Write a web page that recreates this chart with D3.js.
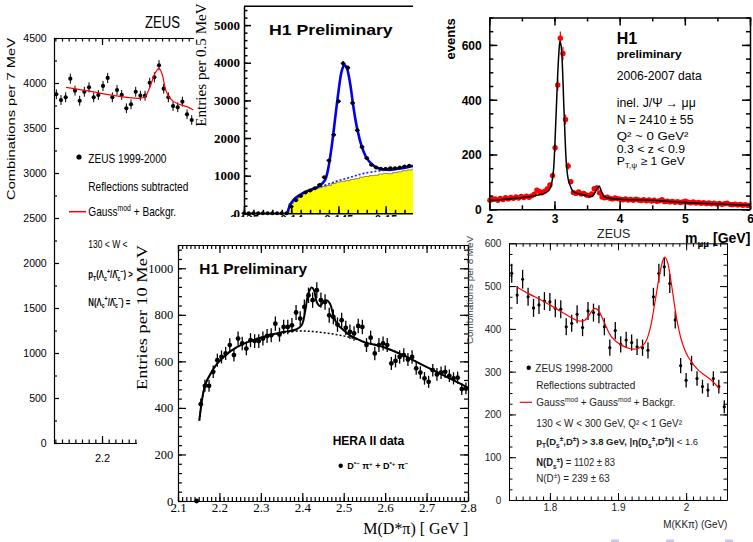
<!DOCTYPE html>
<html>
<head>
<meta charset="utf-8">
<script src="https://cdn.jsdelivr.net/npm/d3@7"></script>
<style>
  html, body { margin: 0; padding: 0; background: #fff; }
  svg { display: block; }
</style>
</head>
<body>
<svg id="page" width="753" height="542"></svg>
<script>
// ---------------- data ----------------
// ZEUS Lambda_c: M(pK pi) in 7 MeV bins
const lcBinStart = 2.1315, lcBinWidth = 0.007;
const lcCounts = [3875, 3811, 3841, 4048, 3915, 3803, 3903, 3952, 3841, 3867,
                  3967, 4056, 3841, 3922, 3867, 3719, 3763, 3903, 3859, 3859,
                  4003, 4063, 4197, 3937, 3841, 3744, 3730, 3793, 3652, 3589];
const lcErrors = [55, 55, 55, 56, 55, 55, 55, 56, 55, 55, 56, 56, 55, 55, 55,
                  54, 55, 55, 55, 55, 56, 56, 57, 55, 55, 54, 54, 55, 54, 54];
const lcFit = [[2.146, 3952], [2.1775, 3915], [2.207, 3874], [2.237, 3841], [2.257, 3830],
               [2.2645, 3848], [2.272, 3959], [2.2795, 4108], [2.2855, 4163], [2.2905, 4089],
               [2.2955, 3922], [2.302, 3830], [2.312, 3774], [2.327, 3737], [2.337, 3700]];
const lcTicksY = [0, 500, 1000, 1500, 2000, 2500, 3000, 3500, 4000, 4500];

// H1 D* : delta M in 0.5 MeV bins
const dmBinStart = 0.135, dmBinWidth = 0.0005;
const dmCounts = [0, 0, 0, 0, 0, 0, 0, 0, 0, 0,
                  180, 350, 460, 551, 604, 666, 755, 960, 1404, 2088,
                  2977, 3982, 3867, 2933, 2204, 1760, 1467, 1288, 1216, 1181,
                  1181, 1200, 1200, 1216, 1243, 1261];
const dmErrors = [0, 0, 0, 0, 0, 0, 0, 0, 0, 0,
                  14, 19, 21, 23, 25, 26, 27, 31, 37, 46,
                  55, 63, 62, 54, 47, 42, 38, 36, 35, 34,
                  34, 35, 35, 35, 35, 36];
const dmWrongCharge = [0, 0, 0, 0, 0, 0, 0, 0, 0, 0,
                       260, 390, 480, 560, 610, 650, 680, 710, 740, 790,
                       830, 850, 870, 900, 920, 960, 980, 1000, 1010, 1040,
                       1060, 1050, 1080, 1100, 1130, 1150, 1170];
const dmFit = [[0.13959, 0], [0.1399, 230], [0.1403, 370], [0.1408, 470], [0.1415, 570],
               [0.1423, 645], [0.1430, 730], [0.14358, 880], [0.14393, 1200], [0.14429, 1777],
               [0.14464, 2488], [0.14499, 3200], [0.14535, 3777], [0.14563, 3937], [0.14588, 3867],
               [0.14623, 3467], [0.14658, 2843], [0.14694, 2310], [0.14747, 1777], [0.148, 1467],
               [0.1487, 1270], [0.14941, 1181], [0.15047, 1155], [0.15153, 1190], [0.1529, 1261]];
const dmBackground = [[0.1423, 645], [0.1430, 700], [0.1441, 790], [0.1450, 870], [0.1459, 930],
                      [0.1468, 1000], [0.1477, 1060], [0.1491, 1120], [0.1505, 1160], [0.1529, 1255]];
const dmTicksX = [0.135, 0.14, 0.145, 0.15];
const dmTicksY = [0, 1000, 2000, 3000, 4000, 5000];

// H1 J/psi : m(mu mu) in 40 MeV bins
const jpBinStart = 2.01, jpBinWidth = 0.04;
const jpCounts = [33, 36, 38, 33, 40, 36, 42, 38, 43, 40,
                  45, 41, 47, 43, 48, 44, 49, 55, 70, 65,
                  60, 66, 74, 89, 123, 225, 454, 624, 569, 328,
                  158, 101, 61, 58, 63, 56, 58, 52, 50, 56,
                  75, 78, 60, 45, 42, 44, 40, 38, 41, 39,
                  37, 35, 38, 34, 36, 33, 37, 34, 32, 35,
                  31, 34, 30, 33, 29, 31, 35, 28, 30, 27,
                  29, 26, 28, 25, 27, 30, 26, 24, 27, 23,
                  25, 22, 24, 21, 23, 20, 22, 19, 21, 18,
                  20, 22, 18, 17, 19, 16, 18, 15, 17, 14];
const jpErrors = [6, 6, 6, 6, 6, 6, 6, 6, 7, 6,
                  7, 6, 7, 7, 7, 7, 7, 7, 8, 8,
                  8, 8, 9, 9, 11, 15, 21, 25, 24, 18,
                  13, 10, 8, 8, 8, 7, 8, 7, 7, 7,
                  9, 9, 8, 7, 6, 7, 6, 6, 6, 6,
                  6, 6, 6, 6, 6, 6, 6, 6, 6, 6,
                  6, 6, 5, 6, 5, 6, 6, 5, 5, 5,
                  5, 5, 5, 5, 5, 5, 5, 5, 5, 5,
                  5, 5, 5, 5, 5, 4, 5, 4, 5, 4,
                  4, 5, 4, 4, 4, 4, 4, 4, 4, 4];
const jpFit = [[2.0, 32], [2.3, 38], [2.6, 46], [2.8, 55], [2.9, 66], [2.94, 80], [2.98, 130],
               [3.007, 241], [3.048, 484], [3.07, 580], [3.084, 612], [3.10, 600], [3.115, 557],
               [3.15, 338], [3.186, 156], [3.215, 105], [3.237, 89], [3.29, 64], [3.4, 55],
               [3.5, 50], [3.58, 47], [3.63, 65], [3.685, 85], [3.72, 66], [3.76, 48], [3.8, 42],
               [4.0, 37], [4.5, 33], [5.0, 25], [5.5, 20], [6.0, 15]];
const jpTicksX = [2, 3, 4, 5, 6];
const jpTicksY = [0, 200, 400, 600];

// H1 D* pi : M(D* pi) in 10 MeV bins
const dsBinStart = 2.145, dsBinWidth = 0.01;
const dsCounts = [0, 416, 495, 495, 555, 605, 619, 634, 670, 627,
                  698, 677, 655, 691, 687, 687, 698, 709, 712, 762,
                  715, 748, 748, 755, 810, 784, 834, 884, 863, 906,
                  863, 855, 798, 791, 758, 777, 744, 727, 720, 752,
                  748, 670, 702, 634, 670, 677, 670, 591, 602, 619,
                  627, 608, 619, 570, 552, 527, 512, 562, 544, 551,
                  555, 538, 527, 530, 481, 484];
const dsErrors = [0, 24, 26, 26, 27, 28, 28, 28, 29, 28,
                  30, 29, 29, 30, 30, 30, 30, 30, 30, 31,
                  30, 31, 31, 31, 32, 31, 32, 33, 33, 34,
                  33, 33, 32, 32, 31, 32, 31, 31, 31, 31,
                  31, 30, 30, 29, 30, 30, 30, 28, 28, 29,
                  29, 28, 29, 28, 27, 27, 26, 27, 27, 27,
                  27, 27, 26, 26, 25, 25];
const dsFit = [[2.1514, 345], [2.1652, 497], [2.179, 548], [2.195, 591], [2.227, 644], [2.26, 677],
               [2.293, 698], [2.325, 715], [2.357, 727], [2.385, 737], [2.3985, 755], [2.4066, 812],
               [2.4146, 891], [2.4227, 917], [2.4283, 906], [2.4348, 855], [2.4428, 838], [2.4509, 855],
               [2.459, 863], [2.467, 848], [2.475, 798], [2.483, 763], [2.495, 741], [2.515, 712],
               [2.531, 698], [2.547, 684], [2.595, 662], [2.643, 627], [2.691, 584], [2.74, 541],
               [2.788, 498], [2.80, 486]];
const dsBackground = [[2.1514, 345], [2.1652, 497], [2.179, 548], [2.195, 591], [2.227, 644],
                      [2.26, 677], [2.293, 698], [2.325, 713], [2.357, 724], [2.389, 730],
                      [2.421, 729], [2.453, 723], [2.486, 714], [2.518, 702], [2.547, 686],
                      [2.595, 662], [2.643, 627], [2.691, 584], [2.74, 541], [2.788, 498], [2.80, 486]];
const dsTicksX = [2.1, 2.2, 2.3, 2.4, 2.5, 2.6, 2.7, 2.8];
const dsTicksY = [0, 200, 400, 600, 800, 1000];

// ZEUS D_s / D+ : M(KK pi) in 8 MeV bins
const kkBinStart = 1.744, kkBinWidth = 0.008;
const kkCounts = [530, 479, 516, 475, 449, 456, 465, 463, 448, 446,
                  405, 413, 434, 403, 442, 438, 434, 405, 356, 396,
                  364, 374, 368, 358, 356, 350, 475, 530, 545, 506,
                  421, 314, 280, 319, 284, 265, 257, 284, 265, 218];
const kkErrors = [22, 21, 22, 21, 21, 21, 21, 21, 21, 21,
                  20, 20, 21, 20, 21, 21, 21, 20, 19, 20,
                  19, 19, 19, 19, 19, 19, 21, 22, 22, 22,
                  20, 18, 17, 18, 17, 16, 16, 17, 16, 15];
const kkFit = [[1.7517, 498], [1.7679, 483], [1.7924, 463], [1.8168, 440], [1.8413, 419],
               [1.8511, 420], [1.8609, 440], [1.8658, 448], [1.8707, 444], [1.8805, 413],
               [1.8902, 382], [1.9049, 362], [1.9196, 353], [1.9294, 354], [1.9392, 366],
               [1.9466, 397], [1.9539, 459], [1.9613, 529], [1.9661, 561], [1.9686, 568],
               [1.9725, 557], [1.9783, 506], [1.9857, 428], [1.993, 374], [2.0028, 335],
               [2.0175, 304], [2.0371, 280], [2.0494, 259]];
const kkTicksX = [1.8, 1.9, 2.0];
const kkTicksY = [0, 100, 200, 300, 400, 500, 600];

// ---------------- helpers ----------------
const SANS = "'Liberation Sans', Arial, Helvetica, sans-serif";
const SERIF = "'Liberation Serif', 'Times New Roman', Times, serif";
const svg = d3.select("#page");

// bin centres plus contents and errors as one record per bin
function bins(start, width, counts, errors) {
  return counts.map((v, i) => ({ m: +(start + width * i).toFixed(5), v, e: errors[i] }));
}

// text with optional sub/superscript parts: [text, "sub"|"sup"|null, weight]
function T(g, x, y, parts, o = {}) {
  const fs = o.fs || 12;
  const t = g.append("text")
    .attr("font-family", o.ff || SANS)
    .attr("font-size", fs)
    .attr("font-weight", o.fw || "normal")
    .attr("fill", o.fill || "#000")
    .attr("text-anchor", o.anchor || "start");
  let tf = `translate(${x},${y})`;
  if (o.rot) tf += ` rotate(${o.rot})`;
  if (o.sx) tf += ` scale(${o.sx},1)`;
  t.attr("transform", tf);
  if (o.len) t.attr("textLength", o.len).attr("lengthAdjust", "spacingAndGlyphs");
  const arr = typeof parts === "string" ? [[parts]] : parts;
  let cur = 0;
  arr.forEach(([s, m, w]) => {
    const off = m === "sub" ? 0.28 : m === "sup" ? -0.4 : 0;
    const ts = t.append("tspan").text(s);
    if (off !== cur) ts.attr("dy", ((off - cur) * fs).toFixed(2));
    cur = off;
    if (m) ts.attr("font-size", (fs * 0.68).toFixed(2));
    if (w) ts.attr("font-weight", w);
  });
  return t;
}

// one side of a frame: inward major and minor ticks, optional labels
function side(g, scale, orient, pos, major, minor, majLen, minLen, fmt, lab, lw) {
  const make = { bottom: d3.axisBottom, top: d3.axisTop, left: d3.axisLeft, right: d3.axisRight }[orient];
  const tr = (orient === "bottom" || orient === "top") ? `translate(0,${pos})` : `translate(${pos},0)`;
  if (minor && minor.length) {
    const m = g.append("g").attr("transform", tr)
      .call(make(scale).tickValues(minor).tickSize(-minLen).tickSizeOuter(0).tickFormat(() => ""));
    m.select(".domain").remove();
    m.selectAll("line").attr("stroke", "#000").attr("stroke-width", lw);
  }
  const a = g.append("g").attr("transform", tr)
    .call(make(scale).tickValues(major || []).tickSize(-majLen).tickSizeOuter(0)
      .tickPadding(lab ? lab.pad : 3).tickFormat(fmt || (() => "")));
  a.select(".domain").attr("stroke", "#000").attr("stroke-width", lw);
  a.selectAll("line").attr("stroke", "#000").attr("stroke-width", lw);
  a.selectAll("text")
    .attr("font-family", lab ? lab.ff : SANS)
    .attr("font-size", lab ? lab.fs : 10)
    .attr("font-weight", lab && lab.fw ? lab.fw : "normal")
    .attr("fill", lab && lab.fill ? lab.fill : "#000");
  if (lab && lab.dy) a.selectAll("text").attr("dy", lab.dy);
  return a;
}

// points with vertical error bars (and optional half-bin horizontal bars)
function points(g, data, x, y, o) {
  g.append("g").selectAll("line").data(data.filter(d => d.e > 0)).join("line")
    .attr("x1", d => x(d.m)).attr("x2", d => x(d.m))
    .attr("y1", d => y(d.v - d.e)).attr("y2", d => y(d.v + d.e))
    .attr("stroke", o.color).attr("stroke-width", o.ew);
  if (o.hw) {
    g.append("g").selectAll("line").data(data).join("line")
      .attr("x1", d => x(d.m) - o.hw).attr("x2", d => x(d.m) + o.hw)
      .attr("y1", d => y(d.v)).attr("y2", d => y(d.v))
      .attr("stroke", o.color).attr("stroke-width", o.ew);
  }
  g.append("g").selectAll("circle").data(data).join("circle")
    .attr("cx", d => x(d.m)).attr("cy", d => y(d.v)).attr("r", o.r)
    .attr("fill", o.color);
}

function curve(g, pts, x, y, stroke, width, dash) {
  const p = g.append("path").datum(pts)
    .attr("d", d3.line().x(d => x(d[0])).y(d => y(d[1])).curve(d3.curveCatmullRom.alpha(0.5)))
    .attr("fill", "none").attr("stroke", stroke).attr("stroke-width", width);
  if (dash) p.attr("stroke-dasharray", dash);
  return p;
}

const defs = svg.append("defs");
defs.append("clipPath").attr("id", "clipB")
  .append("rect").attr("x", 194).attr("y", 0).attr("width", 219).attr("height", 217);

// ---------------- ZEUS Lambda_c (left) ----------------
{
  const g = svg.append("g");
  const x = d3.scaleLinear([2.128, 2.40], [54, 235.4]);
  const y = d3.scaleLinear([0, 4500], [443, 38]);
  const lw = 1.2;
  const minorX = d3.range(213, 240).map(v => v / 100);
  side(g, y, "left", 54, lcTicksY, d3.range(250, 4500, 500), 5, 3, d3.format("d"),
       { ff: SANS, fs: 10.5, pad: 7.3, dy: "0.34em" }, lw);
  side(g, x, "bottom", 443, [2.2], minorX, 7, 3.5, d => d.toFixed(1),
       { ff: SANS, fs: 11, pad: 10.7 }, lw);
  side(g, x, "top", 38, [2.2], minorX, 7, 3.5, null, null, lw);

  points(g, bins(lcBinStart, lcBinWidth, lcCounts, lcErrors), x, y, { color: "#000", r: 2.1, ew: 1 });
  curve(g, lcFit, x, y, "#ff0000", 1.2);

  T(g, 145, 28.3, "ZEUS", { fs: 16, sx: 0.82 });
  T(g, 14.5, 119, "Combinations per 7 MeV", { fs: 10.5, rot: -90, anchor: "middle", len: 162 });

  g.append("circle").attr("cx", 79).attr("cy", 157).attr("r", 2.6).attr("fill", "#000");
  T(g, 88.3, 163.3, "ZEUS 1999-2000", { fs: 12.5, sx: 0.81 });
  T(g, 88.3, 190.5, "Reflections subtracted", { fs: 12.5, sx: 0.81 });
  g.append("line").attr("x1", 69).attr("x2", 86).attr("y1", 211.7).attr("y2", 211.7)
    .attr("stroke", "#ff0000").attr("stroke-width", 1.5);
  T(g, 88.3, 215.5, [["Gauss"], ["mod", "sup"], [" + Backgr."]], { fs: 12.5, sx: 0.81 });
  T(g, 88.3, 248, "130 < W <", { fs: 10.5, sx: 0.81 });
  T(g, 88.3, 278, [["p"], ["T", "sub"], ["(\u039B"], ["c", "sub"], ["+", "sup"], ["/\u039B\u0304"],
                   ["c", "sub"], ["\u2212", "sup"], [") >"]], { fs: 10.5, fw: "bold", sx: 0.74 });
  T(g, 88.3, 305.5, [["N(\u039B"], ["c", "sub"], ["+", "sup"], ["/\u039B\u0304"], ["c", "sub"],
                     ["\u2212", "sup"], [") ="]], { fs: 10.5, fw: "bold", sx: 0.74 });
}

// ---------------- H1 D* delta M (top middle) ----------------
svg.append("rect").attr("x", 194).attr("y", 0).attr("width", 226).attr("height", 217).attr("fill", "#fff");
{
  const g = svg.append("g").attr("clip-path", "url(#clipB)");
  const x = d3.scaleLinear([0.135, 0.155], [244, 432.8]);
  const y = d3.scaleLinear([0, 5500], [213.3, 6.3]);
  const lw = 1.5;

  // wrong-charge combinations as a filled histogram
  const steps = [];
  dmWrongCharge.forEach((v, i) => {
    const c = dmBinStart + dmBinWidth * i;
    steps.push([c - dmBinWidth / 2, v], [c + dmBinWidth / 2, v]);
  });
  g.append("path").datum(steps)
    .attr("d", d3.area().x(d => x(d[0])).y0(y(0)).y1(d => y(d[1])))
    .attr("fill", "#ffff00");
  g.append("path").datum(steps)
    .attr("d", d3.line().x(d => x(d[0])).y(d => y(d[1])))
    .attr("fill", "none").attr("stroke", "#8c8c3c").attr("stroke-width", 1);

  curve(g, dmBackground, x, y, "#1a1aff", 1.6, "2,2");
  curve(g, dmFit, x, y, "#0000f0", 2.6);
  points(g, bins(dmBinStart, dmBinWidth, dmCounts, dmErrors), x, y,
         { color: "#000", r: 2, ew: 1.3, hw: 2.4 });

  side(g, y, "left", 244, dmTicksY, d3.range(0, 5500, 200), 7, 3.5, d3.format("d"),
       { ff: SERIF, fs: 13, fw: "bold", pad: 4, dy: "0.32em" }, lw);
  side(g, x, "bottom", 213.3, dmTicksX, d3.range(135, 156).map(v => v / 1000), 7, 3.5,
       d => String(+d.toFixed(3)), { ff: SERIF, fs: 13, fw: "bold", pad: 0.3 }, lw);
  g.append("line").attr("x1", 244).attr("x2", 413).attr("y1", 6.3).attr("y2", 6.3)
    .attr("stroke", "#000").attr("stroke-width", lw);

  T(g, 269, 35, "H1 Preliminary", { fs: 15, fw: "bold", len: 123.7 });
  T(g, 206, 65, "Entries per 0.5 MeV", { ff: SERIF, fs: 14.5, rot: -90, anchor: "middle", len: 123.4 });
}

// ---------------- H1 D* pi (bottom middle) ----------------
svg.append("rect").attr("x", 137).attr("y", 232).attr("width", 341).attr("height", 310).attr("fill", "#fff");
{
  const g = svg.append("g");
  const x = d3.scaleLinear([2.1, 2.8], [178, 468]);
  const y = d3.scaleLinear([0, 1100], [501, 245]);
  const lw = 1.2;
  const minorX = d3.range(210, 281).map(v => v / 100);
  const minorY = d3.range(0, 1100, 40);
  side(g, y, "left", 178, dsTicksY, minorY, 8, 4, d3.format("d"),
       { ff: SERIF, fs: 12.5, pad: 4.7, dy: "0.32em" }, lw);
  side(g, y, "right", 468, dsTicksY, minorY, 8, 4, null, null, lw);
  side(g, x, "bottom", 501, dsTicksX, minorX, 8, 4, d => d.toFixed(1),
       { ff: SERIF, fs: 13, pad: 2.2 }, lw);
  side(g, x, "top", 245, dsTicksX, minorX, 8, 4, null, null, lw);

  points(g, bins(dsBinStart, dsBinWidth, dsCounts, dsErrors), x, y, { color: "#000", r: 2.4, ew: 1.3 });
  curve(g, dsBackground, x, y, "#000", 1.5, "2,2");
  curve(g, dsFit, x, y, "#000", 2);

  T(g, 199.3, 274.3, "H1 Preliminary", { fs: 15.4, fw: "bold" });
  T(g, 332.7, 445, "HERA II data", { fs: 12, fw: "bold" });
  g.append("circle").attr("cx", 340.7).attr("cy", 465.7).attr("r", 2.2).attr("fill", "#000");
  T(g, 347.3, 469.3, [["D"], ["*\u2212", "sup"], [" \u03C0"], ["+", "sup"], [" + D"], ["*+", "sup"],
                      [" \u03C0"], ["\u2212", "sup"]], { fs: 9, fw: "bold", len: 61 });
  T(g, 147, 317.5, "Entries per 10 MeV", { ff: SERIF, fs: 15.5, rot: -90, anchor: "middle", len: 145 });
  T(g, 468.3, 534, "M(D*\u03C0) [ GeV ]", { ff: SERIF, fs: 16, anchor: "end", len: 105 });
}

// ---------------- ZEUS D_s / D+ (bottom right) ----------------
{
  const g = svg.append("g");
  const x = d3.scaleLinear([1.74, 2.06], [509, 727]);
  const y = d3.scaleLinear([0, 600], [500, 243.3]);
  const lw = 1;
  const ink = "#222";
  const minorX = d3.range(174, 207).map(v => v / 100);
  const minorY = d3.range(0, 600, 25);
  side(g, y, "left", 509, kkTicksY, minorY, 7, 3.5, d3.format("d"),
       { ff: SANS, fs: 10, pad: 7.7, dy: "0.34em", fill: ink }, lw);
  side(g, y, "right", 727, kkTicksY, minorY, 7, 3.5, null, null, lw);
  side(g, x, "bottom", 500, kkTicksX, minorX, 7, 3.5, d => (d === 2 ? "2" : d.toFixed(1)),
       { ff: SANS, fs: 10, pad: 3.6, fill: ink }, lw);
  side(g, x, "top", 243.3, kkTicksX, minorX, 7, 3.5, null, null, lw);

  points(g, bins(kkBinStart, kkBinWidth, kkCounts, kkErrors), x, y, { color: "#000", r: 1.6, ew: 1.3 });
  curve(g, kkFit, x, y, "#ff0000", 1.2);

  T(g, 597, 238, "ZEUS", { fs: 12.5, fill: ink });
  T(g, 472.5, 290, "Combinations per 8 MeV", { fs: 9, rot: -90, anchor: "middle", len: 108, fill: "#444" });
  g.append("circle").attr("cx", 528.7).attr("cy", 367.7).attr("r", 2.2).attr("fill", "#000");
  T(g, 535.3, 371.5, "ZEUS 1998-2000", { fs: 10, fill: ink });
  T(g, 536.3, 389, "Reflections subtracted", { fs: 10, fill: ink });
  g.append("line").attr("x1", 519.7).attr("x2", 532).attr("y1", 402.3).attr("y2", 402.3)
    .attr("stroke", "#ff0000").attr("stroke-width", 1.2);
  T(g, 536.3, 405.7, [["Gauss"], ["mod", "sup"], [" + Gauss"], ["mod", "sup"], [" + Backgr."]],
    { fs: 10, fill: ink, len: 139 });
  T(g, 536.3, 427.3, "130 < W < 300 GeV, Q\u00B2 < 1 GeV\u00B2", { fs: 10, fill: ink, len: 145.7 });
  T(g, 536.3, 445, [["p"], ["T", "sub"], ["(D"], ["s", "sub"], ["\u00B1", "sup"], [",D"], ["\u00B1", "sup"],
                    [") > 3.8 GeV,  |\u03B7(D"], ["s", "sub"], ["\u00B1", "sup"], [",D"], ["\u00B1", "sup"],
                    [")|"], [" < 1.6", null, "normal"]], { fs: 9.5, fw: "bold", fill: ink });
  T(g, 536.3, 465.7, [["N(D", null, "bold"], ["s", "sub", "bold"], ["\u00B1", "sup", "bold"], [")", null, "bold"],
                      [" = 1102 \u00B1 83"]], { fs: 10, fill: ink, len: 78.7 });
  T(g, 536.3, 482.3, [["N(D"], ["\u00B1", "sup"], [") = 239 \u00B1 63"]], { fs: 10, fill: ink, len: 73.4 });
  T(g, 727.3, 528, "M(KK\u03C0)  (GeV)", { fs: 10, fill: ink, anchor: "end", len: 64 });
}

// ---------------- H1 J/psi (top right) ----------------
svg.append("rect").attr("x", 420).attr("y", 0).attr("width", 333).attr("height", 228).attr("fill", "#fff");
{
  const g = svg.append("g");
  const x = d3.scaleLinear([2, 6], [489.3, 750]);
  const y = d3.scaleLinear([0, 700], [209.3, 17.5]);
  const lw = 1.5;
  const minorX = d3.range(20, 61, 5).map(v => v / 10);
  const minorY = d3.range(0, 701, 50);

  points(g, bins(jpBinStart, jpBinWidth, jpCounts, jpErrors), x, y, { color: "#ff0000", r: 2.7, ew: 1.2 });
  curve(g, jpFit, x, y, "#000", 1.5);

  side(g, y, "left", 489.3, jpTicksY, minorY, 8, 4, d3.format("d"),
       { ff: SANS, fs: 12, fw: "bold", pad: 7.6, dy: "0.36em" }, lw);
  side(g, y, "right", 750, jpTicksY, minorY, 8, 4, null, null, lw);
  side(g, x, "bottom", 209.3, jpTicksX, minorX, 8, 4, d3.format("d"),
       { ff: SANS, fs: 12, fw: "bold", pad: 5.5 }, lw);
  side(g, x, "top", 17.5, jpTicksX, minorX, 8, 4, null, null, lw);

  T(g, 455, 18.3, "events", { fs: 13, fw: "bold", rot: -90, anchor: "end" });
  T(g, 616.7, 44, "H1", { fs: 16, fw: "bold" });
  T(g, 616.7, 58, "preliminary", { fs: 11, fw: "bold", len: 65 });
  T(g, 616.7, 80, "2006-2007 data", { fs: 12, len: 85 });
  T(g, 616.7, 107.3, "inel. J/\u03A8 \u2192 \u03BC\u03BC", { fs: 12, len: 79 });
  T(g, 616.7, 124.3, "N = 2410 \u00B1 55", { fs: 12, len: 76.7 });
  T(g, 616.7, 140, "Q\u00B2 ~ 0 GeV\u00B2", { fs: 11, len: 71.7 });
  T(g, 616.7, 152.7, "0.3 < z < 0.9", { fs: 11, len: 68.3 });
  T(g, 616.7, 164.5, [["P"], ["T,\u03C8", "sub"], [" \u2265 1 GeV"]], { fs: 11, len: 68.3 });
}
T(svg, 685, 243, [["m"], ["\u03BC\u03BC", "sub"], ["  [GeV]"]], { fs: 14, fw: "bold" });

// slide navigation marks along the bottom edge
svg.append("g").selectAll("rect").data([611, 666, 725]).join("rect")
  .attr("x", d => d).attr("y", 539.5).attr("width", 8).attr("height", 3)
  .attr("fill", "#c9c9ef");
</script>
</body>
</html>
